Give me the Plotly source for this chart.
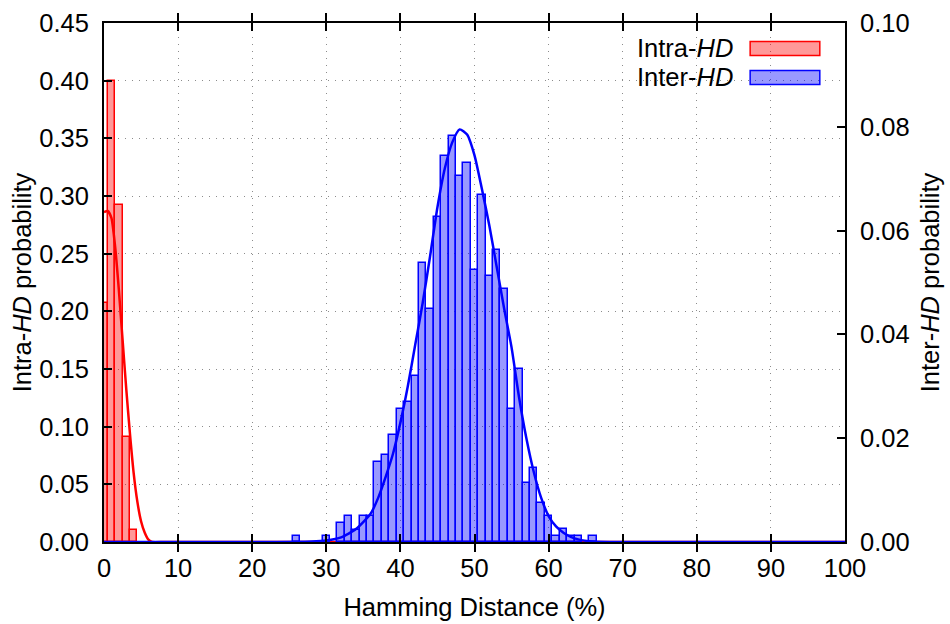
import plotly.graph_objects as go

# ---------------- data ----------------
intra_hd = [0, 1, 2, 3, 4]
intra_prob = [0.207, 0.400, 0.292, 0.091, 0.010]

inter_hd = [26, 30, 32, 33, 34, 35, 36, 37, 38, 39, 40, 41, 42, 43, 44, 45, 46,
            47, 48, 49, 50, 51, 52, 53, 54, 55, 56, 57, 58, 59, 60, 61, 62, 63,
            64, 66]
inter_prob = [0.0012, 0.0012, 0.0037, 0.0050, 0.0024, 0.0050, 0.0050, 0.0155,
              0.0167, 0.0206, 0.0256, 0.0269, 0.0320, 0.0538, 0.0448, 0.0627,
              0.0744, 0.0782, 0.0705, 0.0731, 0.0525, 0.0668, 0.0513, 0.0563,
              0.0487, 0.0256, 0.0333, 0.0114, 0.0143, 0.0075, 0.0050, 0.0012,
              0.0025, 0.0012, 0.0012, 0.0012]

# fitted curves, points
intra_fit_x = [0, 0.5, 1, 1.5, 2, 2.5, 3, 3.5, 4, 4.5, 5, 5.5, 6, 6.5, 8, 10, 100]
intra_fit_y = [0.286, 0.287, 0.281, 0.256, 0.219, 0.176, 0.133, 0.094, 0.060,
               0.035, 0.018, 0.008, 0.002, 0.0, 0.0, 0.0, 0.0]

inter_fit_x = [0, 20, 28, 30, 32, 34, 36, 37, 38, 39, 40, 41, 42, 43, 44, 45,
               46, 47, 48, 49, 50, 51, 52, 53, 54, 55, 56, 57, 58, 59, 60, 61,
               62, 63, 64, 66, 70, 80, 100]
inter_fit_y = [0.0, 0.0, 0.0001, 0.0003, 0.0009, 0.0025, 0.0055, 0.0085, 0.0125,
               0.017, 0.023, 0.030, 0.038, 0.046, 0.055, 0.0645, 0.072, 0.077,
               0.0795, 0.0785, 0.0745, 0.068, 0.061, 0.053, 0.045, 0.0375,
               0.028, 0.020, 0.0135, 0.0085, 0.005, 0.003, 0.0018, 0.001,
               0.0005, 0.0001, 0.0, 0.0, 0.0]

x_ticks = [0, 10, 20, 30, 40, 50, 60, 70, 80, 90, 100]

FONT = "Liberation Sans, Arial, sans-serif"
FS = 25.5
RED = "#ff0000"
BLUE = "#0000ff"
RED_FILL = "rgba(255,0,0,0.4)"
BLUE_FILL = "rgba(0,0,255,0.4)"

fig = go.Figure()

fig.add_trace(go.Bar(x=intra_hd, y=intra_prob, width=1, yaxis="y",
                     marker=dict(color=RED_FILL, line=dict(color=RED, width=1.5)),
                     showlegend=False))
fig.add_trace(go.Bar(x=inter_hd, y=inter_prob, width=1, yaxis="y2",
                     marker=dict(color=BLUE_FILL, line=dict(color=BLUE, width=1.5)),
                     showlegend=False))
fig.add_trace(go.Scatter(x=intra_fit_x, y=intra_fit_y, mode="lines", yaxis="y",
                         line=dict(color=RED, width=2.5, shape="spline", smoothing=0.6),
                         showlegend=False))
fig.add_trace(go.Scatter(x=inter_fit_x, y=inter_fit_y, mode="lines", yaxis="y2",
                         line=dict(color=BLUE, width=2.5, shape="spline", smoothing=0.6),
                         showlegend=False))

grid = dict(showgrid=True, gridcolor="#8c8c8c", gridwidth=1, griddash="1px,6px")

fig.update_layout(
    width=950, height=624, autosize=False,
    margin=dict(l=104, r=105, t=23, b=82),
    paper_bgcolor="white", plot_bgcolor="white",
    font=dict(family=FONT, size=FS, color="black"),
    barmode="overlay", bargap=0,
    xaxis=dict(range=[0, 100], tickvals=x_ticks, ticks="inside", ticklen=8,
               tickwidth=1.5, tickcolor="black", showline=True, linecolor="black",
               linewidth=2, mirror="allticks", zeroline=False, automargin=False,
               ticklabelstandoff=2,
               title=dict(text="Hamming Distance (%)", standoff=18,
                          font=dict(size=FS)),
               **grid),
    yaxis=dict(range=[0, 0.45], dtick=0.05, tickformat=".2f", ticks="inside",
               ticklen=8, tickwidth=1.5, tickcolor="black", showline=True,
               linecolor="black", linewidth=2, zeroline=False, automargin=False,
               ticklabelstandoff=8,
               title=dict(text="Intra-<i>HD</i> probability", standoff=0,
                          font=dict(size=FS)),
               **grid),
    yaxis2=dict(range=[0, 0.10], dtick=0.02, tickformat=".2f", ticks="inside",
                ticklen=8, tickwidth=1.5, tickcolor="black", showline=True,
                linecolor="black", linewidth=2, zeroline=False, showgrid=False,
                automargin=False,
                overlaying="y", side="right", ticklabelstandoff=8,
                title=dict(text="Inter-<i>HD</i> probability", standoff=12,
                           font=dict(size=FS))),
)

# gnuplot-style legend (text right-aligned, sample box to the right)
legend_items = [("Intra-<i>HD</i>", RED, RED_FILL, 0.951),
                ("Inter-<i>HD</i>", BLUE, BLUE_FILL, 0.895)]
for label, lc, fc, yy in legend_items:
    fig.add_annotation(x=0.852, y=yy, xref="paper", yref="paper", text=label,
                       showarrow=False, xanchor="right", yanchor="middle",
                       font=dict(size=FS, family=FONT, color="black"))
    fig.add_shape(type="rect", xref="paper", yref="paper",
                  x0=0.872, x1=0.966, y0=yy - 0.0135, y1=yy + 0.0135,
                  line=dict(color=lc, width=1.5), fillcolor=fc)

fig.write_html("out.html", config={"displayModeBar": False},
               post_script="document.body.style.margin='0';")
